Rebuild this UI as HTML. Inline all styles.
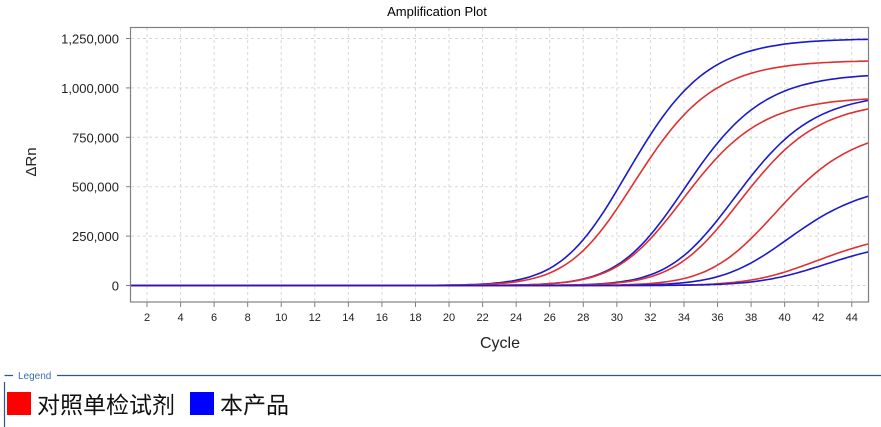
<!DOCTYPE html>
<html><head><meta charset="utf-8"><style>
html,body{margin:0;padding:0;background:#fff;width:881px;height:427px;overflow:hidden}
svg{display:block}
text{font-family:"Liberation Sans","Noto Sans CJK SC",sans-serif}
</style></head><body>
<svg id="s" width="881" height="427" xmlns="http://www.w3.org/2000/svg">
<rect x="0" y="0" width="881" height="427" fill="#fff"/>
<text x="437" y="16" font-size="13" text-anchor="middle" fill="#000">Amplification Plot</text>
<g id="grid" stroke="#d8d8d8" stroke-dasharray="3,3" stroke-width="1"></g>
<g id="curves" fill="none" stroke-width="1.6"></g>
<rect x="130.5" y="27.5" width="738" height="274.5" fill="none" stroke="#808080" stroke-width="1.2"/>
<g id="ticks" stroke="#808080" stroke-width="1"></g>
<g id="labels" font-size="13" fill="#222"></g>
<text x="500" y="348" font-size="16" text-anchor="middle" fill="#222">Cycle</text>
<text transform="translate(36,162) rotate(-90)" font-size="15" text-anchor="middle" fill="#222">ΔRn</text>
<path d="M4.5 382 V427 M4.5 375.5 H13 M57 375.5 H881" stroke="#2a5a8a" stroke-width="1.2" fill="none"/>
<text x="18" y="379" font-size="10" fill="#3a6fb0">Legend</text>
<rect x="7" y="392" width="24" height="23" fill="#f00"/>
<text x="37" y="413" font-size="23" fill="#111">对照单检试剂</text>
<rect x="190" y="392" width="24" height="23" fill="#00f"/>
<text x="220" y="413" font-size="23" fill="#111">本产品</text>
</svg>
<script>
var NS="http://www.w3.org/2000/svg";
function X(c){return 147+(c-2)*16.78}
function Y(v){return 285.5-v/250000*49.4}
function el(p,t,a){var e=document.createElementNS(NS,t);for(var k in a)e.setAttribute(k,a[k]);document.getElementById(p).appendChild(e);return e}
for(var c=2;c<=44;c+=2){el("grid","line",{x1:X(c),x2:X(c),y1:28,y2:302});el("ticks","line",{x1:X(c),x2:X(c),y1:302,y2:307});
 var t=el("labels","text",{x:X(c),y:321,"text-anchor":"middle","font-size":"11"});t.textContent=c;}
var yl=["0","250,000","500,000","750,000","1,000,000","1,250,000"];
for(var i=0;i<6;i++){var y=Y(i*250000);el("grid","line",{x1:131,x2:868,y1:y,y2:y});el("ticks","line",{x1:126,x2:131,y1:y,y2:y});
 var t=el("labels","text",{x:119,y:y+5,"text-anchor":"end"});t.textContent=yl[i];}
var cv=[
["#1a1acc",1250000,31.0],["#e03030",1140000,31.4],
["#1a1acc",1075000,34.4],["#e03030",955000,34.3],
["#1a1acc",975000,37.4],["#e03030",935000,37.7],
["#e03030",800000,39.8],["#1a1acc",520000,40.6],
["#e03030",275000,42.3],["#1a1acc",235000,42.8]];
cv.forEach(function(q){var m=q[2]-1.8,d="";for(var c=1;c<=45;c+=0.25){var v=q[1]*Math.pow(1+Math.exp(-0.4*(c-m)),-1.75);d+=(d?"L":"M")+X(c).toFixed(1)+" "+Y(v).toFixed(1)}
 el("curves","path",{d:d,stroke:q[0]});});
</script>
</body></html>
